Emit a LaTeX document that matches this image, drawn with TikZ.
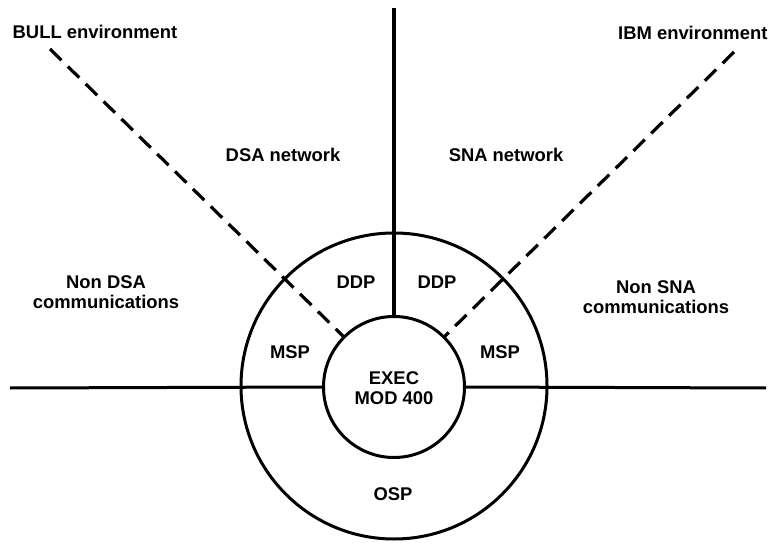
\documentclass[tikz,border=0pt]{standalone}
\usepackage{fontspec}
\setmainfont{Liberation Sans}
\begin{document}
\begin{tikzpicture}[x=1bp,y=-1bp,
  lbl/.style={font=\fontsize{18.4bp}{20bp}\selectfont\bfseries, inner sep=0pt, align=center},
  ring/.style={circle, draw, line width=3bp, inner sep=0pt, outer sep=0pt},
  solidline/.style={line width=3bp},
  dashline/.style={line width=3.2bp, dash pattern=on 16bp off 9bp}]
\useasboundingbox (0,0) rectangle (769,543);
\node[ring, minimum size=306bp] (outer) at (394,386) {};
\node[ring, minimum size=141bp] (inner) at (394,387) {};
% coordinates for free ends
\coordinate (top) at (394,8);
\coordinate (left) at (10,388);
\coordinate (right) at (766,388);
\coordinate (bull) at (50,49);
\coordinate (ibm) at (734,52);
\draw[solidline, line width=3.4bp] (top) -- (inner.north);
\draw[solidline] (left) -- (inner.west);
\draw[solidline] (inner.east) -- (right);
\draw[dashline] (bull) -- (inner.135);
\draw[dashline] (ibm) -- (inner.45);
% labels
\node[lbl] (tbull) at (95,32) {BULL environment};
\node[lbl, anchor=west] (tibm) at (618,33) {IBM environment};
\node[lbl] (tdsa) at (283,155) {DSA network};
\node[lbl] (tsna) at (506,155) {SNA network};
\node[lbl] (tndsa) at (106,292) {Non DSA\\communications};
\node[lbl] (tnsna) at (656,297) {Non SNA\\communications};
\node[lbl] (ddpl) at (356,282) {DDP};
\node[lbl] (ddpr) at (437,282) {DDP};
\node[lbl] (mspl) at (290,352) {MSP};
\node[lbl] (mspr) at (500,352) {MSP};
\node[lbl] (exec) at (394,388) {EXEC\\MOD 400};
\node[lbl] (osp) at (393,494) {OSP};
\end{tikzpicture}
\end{document}
